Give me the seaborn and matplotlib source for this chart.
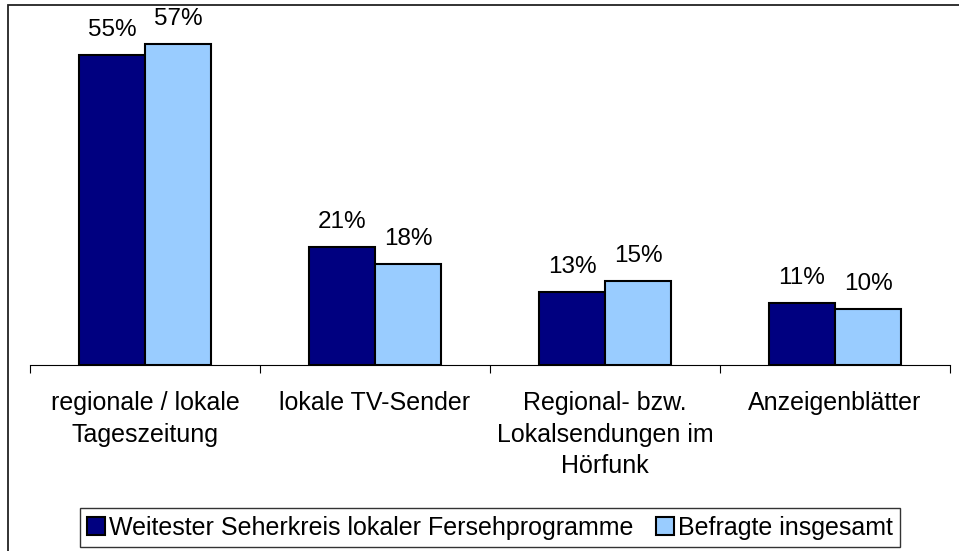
import pandas as pd
import matplotlib.pyplot as plt
import seaborn as sns
from matplotlib.patches import Rectangle

# --- data ---
categories = ['regionale / lokale\nTageszeitung', 'lokale TV-Sender',
              'Regional- bzw.\nLokalsendungen im\nHörfunk', 'Anzeigenblätter']
series_names = ['Weitester Seherkreis lokaler Fersehprogramme', 'Befragte insgesamt']
seherkreis = [55, 21, 13, 11]
insgesamt = [57, 18, 15, 10]
colors = ['#000080', '#99CCFF']

df = pd.DataFrame({
    'Kategorie': categories * 2,
    'Gruppe': [series_names[0]] * 4 + [series_names[1]] * 4,
    'Wert': seherkreis + insgesamt,
})

sns.set_style('white')
plt.rcParams['font.family'] = ['Liberation Sans', 'DejaVu Sans']
plt.rcParams['text.color'] = 'black'
plt.rcParams['xtick.color'] = 'black'
plt.rcParams['axes.labelcolor'] = 'black'

fig = plt.figure(figsize=(9.59, 5.51), dpi=100)
ax = fig.add_axes([30 / 959, 1 - 365 / 551, 920 / 959, 338 / 551])

sns.barplot(data=df, x='Kategorie', y='Wert', hue='Gruppe', palette=colors,
            width=0.574, edgecolor='black', linewidth=1.5, saturation=1,
            ax=ax)

for cont in ax.containers:
    ax.bar_label(cont, labels=[f'{v:.0f}%' for v in cont.datavalues],
                 padding=10, fontsize=17.5, color='black')

ax.set_ylim(0, 60)
ax.set_xlim(-0.5, 3.5)
ax.set_xlabel('')
ax.set_ylabel('')
ax.set_yticks([])
for s in ['top', 'right', 'left']:
    ax.spines[s].set_visible(False)
ax.spines['bottom'].set_color('black')
ax.spines['bottom'].set_linewidth(0.8)

# category labels, tick marks between categories
ax.set_xticks(range(4))
ax.set_xticklabels(categories, fontsize=18, linespacing=1.38, color='black')
ax.tick_params(axis='x', which='major', length=0, pad=19)
ax.set_xticks([-0.5, 0.5, 1.5, 2.5, 3.5], minor=True)
ax.tick_params(axis='x', which='minor', length=6, width=0.8, color='black',
               direction='out', bottom=True)

leg = ax.legend(loc='center', bbox_to_anchor=(490 / 959, 23.5 / 551), bbox_transform=fig.transFigure,
                ncol=2, fontsize=18, frameon=True, fancybox=False, shadow=False,
                handlelength=0.72, handleheight=0.72, handletextpad=0.15,
                columnspacing=0.9, borderpad=0.3, borderaxespad=0)
leg.get_frame().set_edgecolor('black')
leg.get_frame().set_linewidth(1.0)
for t in leg.get_texts():
    t.set_color('black')

# outer chart frame (right and bottom edge fall outside the picture)
fig.patches.append(Rectangle((8 / 959, -5 / 551), 960 / 959, 551 / 551,
                             transform=fig.transFigure, fill=False,
                             edgecolor='#222222', linewidth=1.3))

fig.savefig('out.png', dpi=100)
